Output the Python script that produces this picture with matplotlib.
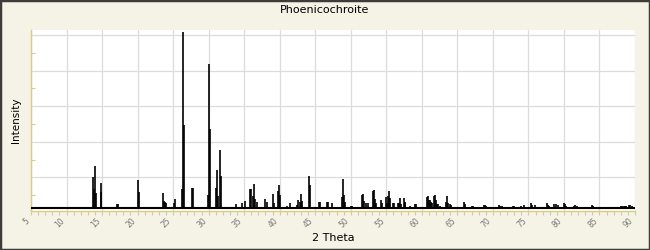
import matplotlib
matplotlib.use('Agg')
import matplotlib.pyplot as plt
from matplotlib.patches import Rectangle
import numpy as np

# peak list: 2 theta, relative intensity (%)
two_theta = [13.67, 13.81, 13.95, 14.09, 14.79, 14.89, 17.05, 17.2, 20.0, 20.14,
             23.52, 23.66, 23.8, 23.94, 25.07, 25.21, 26.25, 26.39, 26.53, 27.62,
             27.76, 29.85, 29.99, 30.13, 30.98, 31.12, 31.26, 31.54, 31.68, 33.85,
             34.7, 35.08, 35.77, 35.9, 36.18, 36.33, 36.47, 36.75, 38.0, 38.15,
             39.0, 39.14, 39.76, 39.9, 40.04, 41.0, 41.4, 42.4, 42.57, 42.8,
             42.94, 43.08, 44.06, 44.2, 45.6, 45.74, 46.66, 46.8, 47.36, 48.7,
             48.85, 48.99, 49.13, 50.0, 50.2, 51.58, 51.72, 51.86, 52.14, 52.37,
             53.07, 53.21, 53.35, 53.49, 54.2, 54.34, 54.9, 55.04, 55.18, 55.32,
             55.46, 55.9, 56.03, 56.6, 56.74, 56.88, 57.0, 57.44, 57.58, 57.7,
             58.28, 59.0, 59.14, 60.73, 60.87, 61.0, 61.15, 61.29, 61.43, 61.66,
             61.8, 61.94, 62.13, 62.3, 62.6, 63.35, 63.49, 63.63, 63.9, 64.05,
             65.6, 65.9, 66.05, 67.06, 67.2, 67.9, 68.7, 68.84, 69.0, 70.9,
             71.05, 71.3, 72.8, 72.94, 73.9, 74.4, 75.3, 75.5, 75.9, 76.8,
             77.6, 77.75, 77.9, 78.6, 78.9, 79.1, 79.95, 80.1, 80.35, 81.35,
             81.6, 81.9, 82.5, 83.9, 84.1, 85.0, 85.8, 86.7, 88.0, 88.2,
             88.4, 88.6, 88.8, 89.1, 89.3, 89.6]
intensity = [17.8, 11, 23.9, 8.5, 14, 9, 2.3, 2.3, 15.9, 9.3,
             8.7, 4, 3.4, 3, 3, 5.1, 10.8, 100, 47, 11.5,
             11.5, 7.4, 81.8, 45, 11.5, 21.6, 7, 33, 18.2, 2.3,
             2.8, 4, 11, 10.6, 6.8, 13.6, 5, 3.4, 5, 3.6,
             8, 3, 9.7, 13, 7.4, 1.1, 2.7, 1.5, 4.5, 3.6,
             8, 4, 18.2, 13, 3.4, 3.4, 3.4, 3.4, 2.6, 6,
             16.3, 7.4, 3.6, 1.1, 1.1, 7.4, 8, 4, 3, 2.6,
             9.7, 10.2, 5, 2.6, 4.5, 2.6, 6, 3, 6.8, 9.7,
             5.5, 2.6, 2.6, 2.6, 3, 5.5, 2.3, 5.5, 3.6, 2.6,
             1.1, 2.3, 2.3, 6.4, 6.8, 4.5, 4.5, 3.6, 2.6, 7,
             7.4, 4.5, 2, 2, 1.4, 3.6, 6.8, 2.6, 2, 1.7,
             0.8, 3.2, 2, 1.1, 1.1, 0.8, 1.7, 1.7, 1.1, 1.7,
             1.1, 1.1, 1.1, 1.1, 1.1, 1.7, 2.6, 1.5, 1.5, 0.8,
             2.6, 1.5, 1.1, 2, 2.3, 1.5, 3, 2, 1.1, 1.1,
             1.5, 1.1, 0.8, 1.7, 1.1, 0.8, 0.8, 0.8, 1.1, 1.1,
             1.1, 1.1, 1.1, 1.7, 1.7, 1.1]

x_ticks = list(range(5, 91, 5))

bg = '#f5f2e6'
axis_col = '#d8cc8c'

fig = plt.figure(figsize=(6.5, 2.5), dpi=100)
fig.patch.set_facecolor(bg)
fig.patches.append(Rectangle((0, 0), 1, 1, transform=fig.transFigure, fill=False,
                             edgecolor='#3c3c38', linewidth=2.5, zorder=10))

ax = fig.add_axes([31 / 650, 1 - 211 / 250, 604 / 650, 181 / 250])
ax.set_facecolor('white')

ax.vlines(two_theta, 0, intensity, color='black', linewidth=1.2, zorder=3)
ax.plot([5, 90], [0, 0], color='black', linewidth=1.5, zorder=3)

ax.set_xlim(5, 90)
ax.set_ylim(-1.7, 101.1)

ax.set_xticks(x_ticks)
ax.set_xticklabels([str(t) for t in x_ticks], rotation=45, ha='right', va='top',
                   fontsize=5.5, color='#777777')
ax.set_xticks(np.arange(5, 91, 1), minor=True)
ygrid = [17.4 + 20.2 * k for k in range(5)]
ax.set_yticks(ygrid)
ax.set_yticklabels([])
ax.set_yticks([y - 10.1 for y in ygrid], minor=True)

ax.tick_params(axis='x', which='both', direction='out', length=3, width=0.8,
               color=axis_col, pad=1)
ax.tick_params(axis='y', which='both', direction='in', length=3, width=0.8,
               color=axis_col)
ax.tick_params(axis='y', which='major', length=0)

ax.grid(True, which='major', color='#dcdcdc', linewidth=0.9, zorder=0)
ax.set_axisbelow(True)

for s in ['top', 'right']:
    ax.spines[s].set_visible(False)
for s in ['left', 'bottom']:
    ax.spines[s].set_color(axis_col)
    ax.spines[s].set_linewidth(1.0)

ax.set_xlabel('2 Theta', fontsize=8, labelpad=2)
ax.set_ylabel('Intensity', fontsize=7.5, labelpad=4)
fig.text(0.5, 1 - 10 / 250, 'Phoenicochroite', ha='center', va='center', fontsize=8)

fig.savefig('out.png', dpi=100, facecolor=bg)
